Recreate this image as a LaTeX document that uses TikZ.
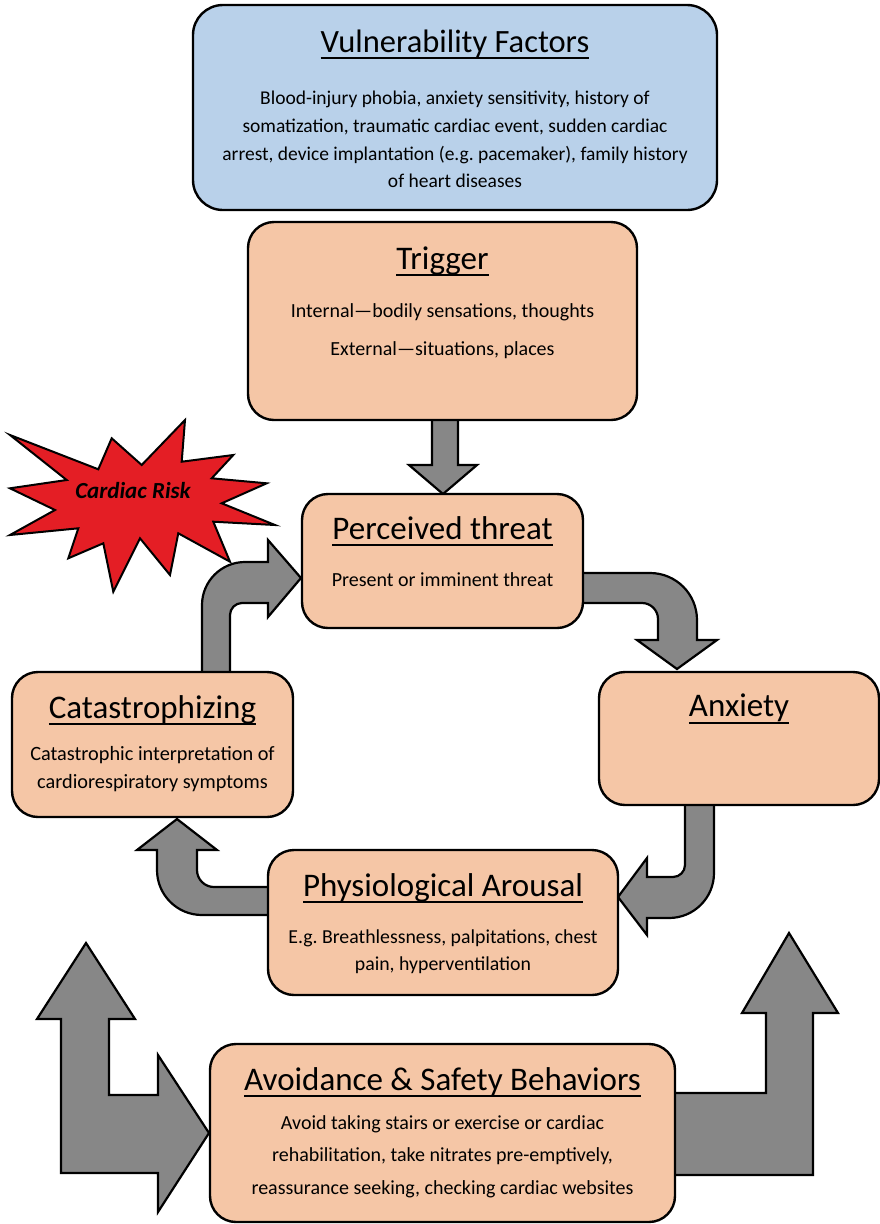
\documentclass[tikz,border=0pt]{standalone}
\usepackage{fontspec}
\setmainfont{Carlito}
\frenchspacing
\definecolor{peach}{HTML}{F5C6A6}
\definecolor{lblue}{HTML}{B9D1EA}
\definecolor{agray}{HTML}{878787}
\definecolor{starred}{HTML}{E41E25}
\newcommand\myul[1]{\setbox0\hbox{#1}\rlap{\rule[-0.22em]{\wd0}{0.065em}}\box0}
\tikzset{
  box/.style={draw=black, line width=2.4pt, rounded corners=26pt, fill=peach, inner sep=0pt},
  arr/.style={fill=agray, draw=black, line width=2.2pt, line join=miter},
  ttl/.style={font=\fontsize{33}{36}\selectfont, anchor=base, inner sep=0pt},
  bodytext/.style={font=\fontsize{20}{28}\selectfont, align=center, inner sep=0pt},
}
\begin{document}
\begin{tikzpicture}[x=1pt,y=-1pt]
\useasboundingbox (0,0) rectangle (880,1224);
% ---------- block arrows ----------
\draw[arr] (432,418) -- (432,465) -- (409,465) -- (443,494) -- (477,465) -- (458,465) -- (458,418) -- cycle;
\draw[arr] (581,573) -- (650,573) .. controls (676,573) and (697,594) .. (697,620) -- (697,640) -- (717,640) -- (677,669) -- (637,640) -- (658,640) -- (658,619) .. controls (658,610.2) and (650.8,603) .. (642,603) -- (581,603) -- cycle;
\draw[arr] (685,803) -- (685,865) .. controls (685,871.6) and (679.6,877) .. (673,877) -- (647,877) -- (647,858) -- (618,897) -- (647,935) -- (647,918) -- (669,918) .. controls (693.9,918) and (714,897.9) .. (714,873) -- (714,803) -- cycle;
\draw[arr] (270,887) -- (214,887) .. controls (204.6,887) and (197,879.4) .. (197,870) -- (197,850) -- (217,850) -- (177,819) -- (137,850) -- (157,850) -- (157,870) .. controls (157,894.9) and (177.1,915) .. (202,915) -- (270,915) -- cycle;
\draw[arr] (202,674) -- (202,605) .. controls (202,581.3) and (221.3,562) .. (245,562) -- (268,562) -- (268,540) -- (301,578) -- (268,617) -- (268,603) -- (242,603) .. controls (235.4,603) and (230,608.4) .. (230,615) -- (230,674) -- cycle;
\draw[arr] (86,943) -- (135,1019) -- (109,1019) -- (109,1095) -- (158,1095) -- (158,1055) -- (209,1133) -- (158,1212) -- (158,1173) -- (61,1173) -- (61,1019) -- (37,1019) -- cycle;
\draw[arr] (673,1093) -- (766,1093) -- (766,1013) -- (742,1013) -- (789,933) -- (838,1013) -- (813,1013) -- (813,1175) -- (673,1175) -- cycle;
% ---------- starburst ----------
\draw[fill=starred, draw=black, line width=2pt, line join=miter]
  (10,435) -- (98.3,469.3) -- (111.7,438.3) -- (141.7,465) -- (185,420) -- (181.7,461.7)
  -- (233.3,455) -- (211.7,478.3) -- (266.7,483.3) -- (221.7,503.3) -- (275,525)
  -- (213.3,521.7) -- (230,561.7) -- (178.3,533.3) -- (170,575) -- (140,538.3)
  -- (113.3,591.7) -- (103.3,543.3) -- (68.3,558.3) -- (78.3,528.3) -- (10,535)
  -- (55,510) -- (10,488.3) -- (66.7,480) -- cycle;
\node[font=\fontsize{23}{26}\selectfont\bfseries\itshape, anchor=base, inner sep=0pt] (risk) at (133,498) {Cardiac Risk};
% ---------- boxes ----------
\node[box, fill=lblue, rounded corners=30pt, minimum width=524pt, minimum height=205pt] (vuln) at (455,107.5) {};
\node[box, minimum width=389pt, minimum height=198pt] (trig) at (442.5,321) {};
\node[box, minimum width=281pt, minimum height=134pt] (perc) at (442.5,561) {};
\node[box, minimum width=280pt, minimum height=133pt] (anx) at (739,738.5) {};
\node[box, minimum width=281pt, minimum height=145pt] (cat) at (152.5,744.5) {};
\node[box, minimum width=350pt, minimum height=145pt] (phys) at (443,922.5) {};
\node[box, minimum width=465pt, minimum height=178pt] (avoid) at (442.5,1133) {};
% ---------- texts ----------
\node[ttl, font=\fontsize{32.5}{36}\selectfont] (vulnT) at (455,52) {\myul{Vulnerability Factors}};
\node[bodytext, font=\fontsize{19.5}{27.8}\selectfont] (vulnB) at (455,139.5) {Blood-injury phobia, anxiety sensitivity, history of\\somatization, traumatic cardiac event, sudden cardiac\\arrest, device implantation (e.g. pacemaker), family history\\of heart diseases};
\node[ttl] (trigT) at (442.5,269) {\myul{Trigger}};
\node[bodytext, font=\fontsize{20}{38.3}\selectfont] (trigB) at (442.5,331) {Internal—bodily sensations, thoughts\\External—situations, places};
\node[ttl] (percT) at (442.5,539) {\myul{Perceived threat}};
\node[bodytext, anchor=base] (percB) at (442.5,586) {Present or imminent threat};
\node[ttl] (anxT) at (739,716.5) {\myul{Anxiety}};
\node[ttl] (catT) at (152.5,718) {\myul{Catastrophizing}};
\node[bodytext, font=\fontsize{20.3}{28}\selectfont] (catB) at (152.5,769) {Catastrophic interpretation of\\cardiorespiratory symptoms};
\node[ttl] (physT) at (443,896) {\myul{Physiological Arousal}};
\node[bodytext, font=\fontsize{19.8}{27}\selectfont] (physB) at (443,951.5) {E.g. Breathlessness, palpitations, chest\\pain, hyperventilation};
\node[ttl] (avoidT) at (442.5,1090) {\myul{Avoidance \& Safety Behaviors}};
\node[bodytext, font=\fontsize{20}{32.5}\selectfont] (avoidB) at (442.5,1156.5) {Avoid taking stairs or exercise or cardiac\\rehabilitation, take nitrates pre-emptively,\\reassurance seeking, checking cardiac websites};
\end{tikzpicture}
\end{document}
